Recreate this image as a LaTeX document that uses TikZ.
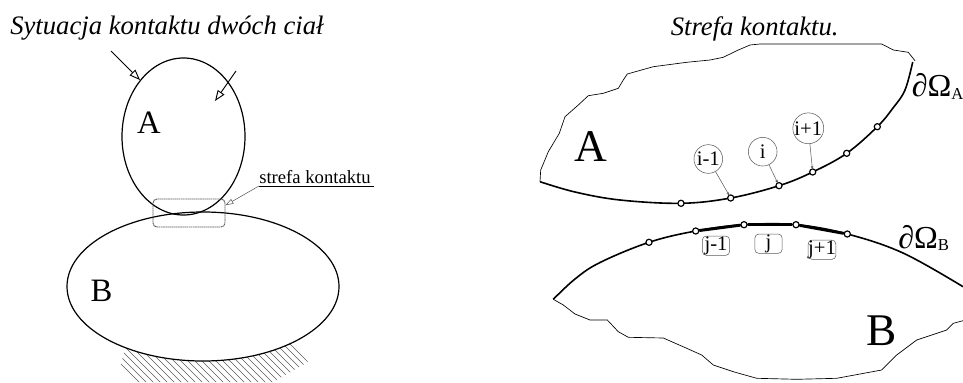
\documentclass[tikz,border=0pt]{standalone}
\usepackage{fontspec}
\setmainfont{Liberation Serif}
\usepackage{xcolor}
\usetikzlibrary{arrows.meta,shapes.geometric,calc}
\definecolor{thingray}{RGB}{90,90,90}
\begin{document}
\begin{tikzpicture}[
    x=0.75pt, y=-0.75pt,
    body/.style={ellipse, draw, line width=0.9pt, inner sep=0pt},
    bigletter/.style={font=\fontsize{24.5}{26}\selectfont, inner sep=0pt},
    hugeletter/.style={font=\fontsize{34}{36}\selectfont, inner sep=0pt},
    heading/.style={font=\fontsize{20}{22}\selectfont\itshape, anchor=base west, inner sep=0pt},
    boundary/.style={font=\fontsize{24}{26}\selectfont, anchor=base west, inner sep=0pt},
    force/.style={-{Triangle[open,length=8pt,width=6pt]}, line width=0.7pt},
    leader/.style={-{Stealth[length=3pt,width=2pt]}, line width=0.4pt, color=thingray, shorten >=-1pt},
    rough/.style={line width=0.5pt},
    contour/.style={line width=1.2pt},
    marker/.style={circle, draw, fill=white, line width=0.9pt, inner sep=0pt, minimum size=4.6pt},
    inode/.style={circle, draw=thingray, line width=0.4pt, inner sep=0pt, minimum size=21.5pt, font=\fontsize{15.5}{16}\selectfont},
    jnode/.style={rectangle, rounded corners=3pt, draw=thingray, line width=0.4pt, inner sep=0pt, minimum width=20.5pt, minimum height=14.5pt, font=\fontsize{15.5}{16}\selectfont}
]
    \useasboundingbox (0,0) rectangle (963,382);

    % Hatched support
    \begin{scope}
        \clip (126,345) -- (120,368) -- (136,382) -- (273,382) -- (308,362) -- (290,340) -- (200,330) -- cycle;
        \foreach \hc in {-250,-243,...,-40} {
            \draw[line width=0.5pt, color=thingray] (\hc+300,300) -- (\hc+400,400);
        }
    \end{scope}

    % Left picture
    \node[heading] (title) at (10,34) {Sytuacja kontaktu dwóch ciał};
    \node[body, fill=white, minimum width=204pt, minimum height=111.75pt] (bodyB) at (203,286.5) {};
    \node[body, minimum width=92.25pt, minimum height=117.75pt] (bodyA) at (183.5,136.5) {};
    \node[bigletter] (letterA) at (149,122.5) {A};
    \node[bigletter] (letterB) at (101.5,291) {B};

    % Forces
    \coordinate (fa) at (111,51);
    \coordinate (fb) at (140,80);
    \coordinate (fc) at (236,71);
    \coordinate (fd) at (215,101);
    \draw[force] (fa) -- (fb);
    \draw[force] (fc) -- (fd);

    % Contact zone
    \node[rectangle, rounded corners=3pt, dash pattern=on 1.2pt off 0.4pt, draw=thingray, line width=0.7pt, minimum width=54pt, minimum height=21pt, inner sep=0pt] (zone) at (189,213) {};
    \node[font=\fontsize{14}{16}\selectfont, anchor=base west, inner sep=0pt] (zonetext) at (259,183) {strefa kontaktu};
    \coordinate (zoneend) at (374,186);
    \coordinate (zonestart) at (259,186);
    \draw[line width=0.6pt] (zonestart) -- (zoneend);
    \draw[-{Triangle[open,length=6pt,width=4pt]}, line width=0.4pt, color=thingray] (zonestart) -- (zone.12);

    % Right picture
    \node[heading] (titleright) at (670.5,35) {Strefa kontaktu.};

    % Body A: zone edge
    \draw[rough] plot coordinates {(540,181.7) (540.7,170) (548.3,151.7) (559.3,133.3) (565,116.7) (578.3,105) (588.3,95.7) (603.3,93.3) (618.3,88.3) (623.3,80) (627.3,74) (653.3,66.7) (686.7,62.3) (710,60) (723.3,57.3) (736.7,50.7) (750,45) (760,44) (881.7,44) (893.3,50) (908.3,52.3) (915,60.7)};
    \draw[contour] plot[smooth, tension=0.6] coordinates {(912.7,62) (905,90) (893,108) (877.3,126.7) (846.7,153.3) (812.7,172) (779,185.7) (730.7,198) (681,203.3) (620,200) (575,192) (540,181.7)};
    \node[marker] (a1) at (681,203.3) {};
    \node[marker] (a2) at (730.7,198) {};
    \node[marker] (a3) at (779,185.7) {};
    \node[marker] (a4) at (812.7,172) {};
    \node[marker] (a5) at (846.7,153.3) {};
    \node[marker] (a6) at (877.3,126.7) {};
    \node[hugeletter] (bigA) at (591,147) {A};
    \node[boundary] (dA) at (911.5,96.5) {∂Ω\raisebox{-2pt}{\fontsize{12.5}{13}\selectfont A}};

    % Labels of upper points
    \node[inode] (im) at (708.3,159) {i-1};
    \node[inode] (ic) at (762.7,151.7) {i};
    \node[inode] (ip) at (808.3,128.3) {i+1};
    \draw[leader] (im) -- (a2);
    \draw[leader] (ic) -- (a3);
    \draw[leader] (ip) -- (a4);

    % Body B: zone edge
    \draw[rough] plot coordinates {(553.3,299.3) (563.3,305) (575,314) (590,320) (607.3,320) (618.3,331.7) (628.3,337.3) (663.3,338) (686.7,348.3) (701.7,355) (713.3,365) (733.3,371.7) (756.7,378.3) (796.7,379.3) (836.7,378.3) (881.7,370) (896.7,355) (916.7,340) (946.7,330) (953.3,323.3) (963,320.7)};
    \draw[contour] plot[smooth, tension=0.6] coordinates {(553.3,299.3) (575,279) (600,262.5) (649,242.3) (695.7,231) (744,224.7) (796,224.7) (847.3,234) (903,253) (963,286.7)};
    \node[marker] (b1) at (649,242.3) {};
    \node[marker] (b2) at (695.7,231) {};
    \node[marker] (b3) at (744,224.7) {};
    \node[marker] (b4) at (796,224.7) {};
    \node[marker] (b5) at (847.3,234) {};
    \draw[line width=2.2pt] (b2) -- (b3);
    \draw[line width=2.2pt] (b3) -- (b4);
    \draw[line width=2.2pt] (b4) -- (b5);
    \node[hugeletter] (bigB) at (881.7,330.7) {B};
    \node[boundary] (dB) at (898,248) {∂Ω\raisebox{-2pt}{\fontsize{12.5}{13}\selectfont B}};

    % Labels of lower segments
    \node[jnode] (jm) at (716,245.7) {j-1};
    \node[jnode] (jc) at (768.5,243.7) {j};
    \node[jnode] (jp) at (822,249.7) {j+1};
\end{tikzpicture}
\end{document}
